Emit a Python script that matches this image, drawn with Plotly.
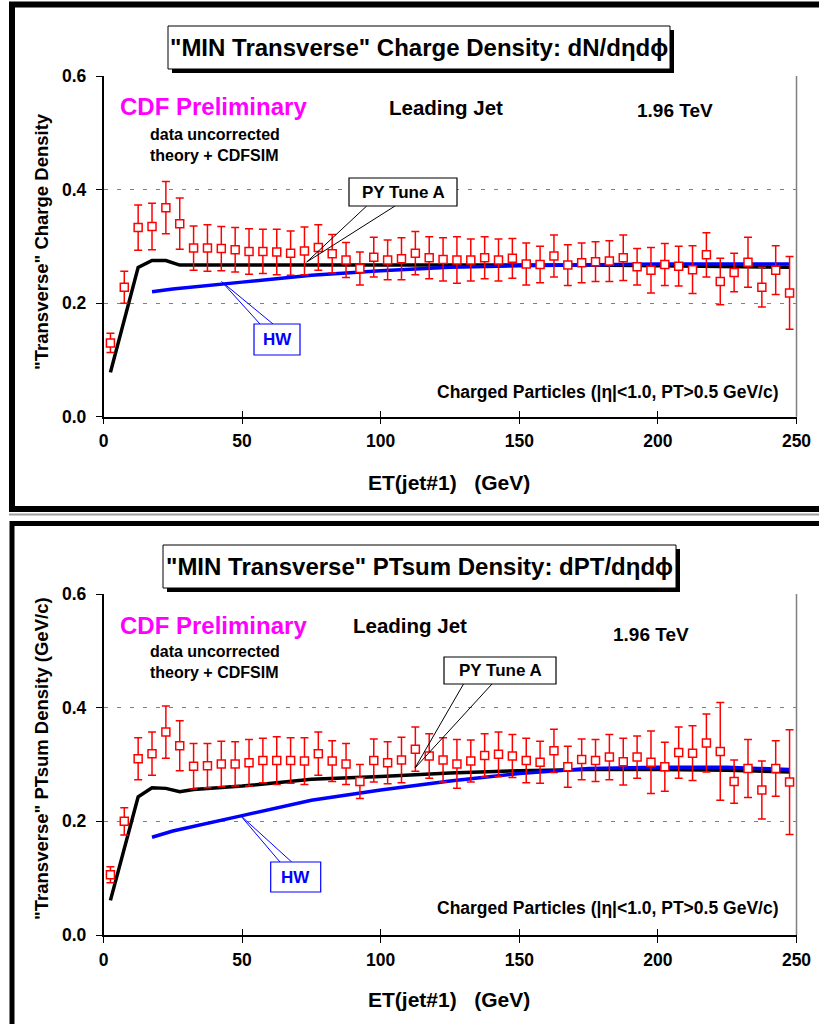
import plotly.graph_objects as go

W, H = 819, 1024

# ---- data -------------------------------------------------------------
et_bins = [2.5, 7.5, 12.5, 17.5, 22.5, 27.5, 32.5, 37.5, 42.5, 47.5,
           52.5, 57.5, 62.5, 67.5, 72.5, 77.5, 82.5, 87.5, 92.5, 97.5,
           102.5, 107.5, 112.5, 117.5, 122.5, 127.5, 132.5, 137.5, 142.5, 147.5,
           152.5, 157.5, 162.5, 167.5, 172.5, 177.5, 182.5, 187.5, 192.5, 197.5,
           202.5, 207.5, 212.5, 217.5, 222.5, 227.5, 232.5, 237.5, 242.5, 247.5]

charge_data = [0.130, 0.228, 0.333, 0.335, 0.368, 0.340, 0.297, 0.297, 0.296, 0.294,
               0.291, 0.291, 0.290, 0.288, 0.292, 0.298, 0.287, 0.276, 0.261, 0.281,
               0.276, 0.278, 0.288, 0.280, 0.277, 0.276, 0.276, 0.280, 0.276, 0.279,
               0.269, 0.268, 0.283, 0.267, 0.271, 0.273, 0.274, 0.280, 0.264, 0.258,
               0.268, 0.265, 0.259, 0.285, 0.238, 0.254, 0.272, 0.228, 0.258, 0.218]
charge_err = [0.017, 0.028, 0.040, 0.041, 0.046, 0.045, 0.039, 0.041, 0.039, 0.039,
              0.040, 0.039, 0.040, 0.039, 0.042, 0.040, 0.034, 0.031, 0.029, 0.035,
              0.035, 0.037, 0.038, 0.037, 0.038, 0.041, 0.037, 0.037, 0.037, 0.035,
              0.037, 0.032, 0.037, 0.036, 0.035, 0.035, 0.036, 0.040, 0.032, 0.040,
              0.037, 0.035, 0.042, 0.039, 0.041, 0.034, 0.044, 0.035, 0.043, 0.064]

ptsum_data = [0.106, 0.200, 0.310, 0.319, 0.357, 0.333, 0.297, 0.298, 0.301, 0.301,
              0.303, 0.307, 0.307, 0.307, 0.306, 0.319, 0.306, 0.301, 0.270, 0.307,
              0.303, 0.308, 0.327, 0.315, 0.308, 0.301, 0.306, 0.316, 0.318, 0.315,
              0.307, 0.304, 0.324, 0.296, 0.309, 0.307, 0.313, 0.305, 0.313, 0.304,
              0.296, 0.321, 0.320, 0.338, 0.323, 0.270, 0.293, 0.255, 0.293, 0.269]
ptsum_err = [0.014, 0.024, 0.037, 0.038, 0.046, 0.044, 0.040, 0.039, 0.040, 0.039,
             0.041, 0.039, 0.042, 0.040, 0.041, 0.038, 0.036, 0.036, 0.030, 0.038,
             0.037, 0.040, 0.039, 0.039, 0.039, 0.043, 0.037, 0.038, 0.039, 0.038,
             0.039, 0.037, 0.038, 0.036, 0.036, 0.037, 0.040, 0.041, 0.037, 0.055,
             0.043, 0.045, 0.048, 0.051, 0.086, 0.038, 0.051, 0.051, 0.049, 0.092]

py_et = [2.5, 7.5, 12.5, 17.5, 22.5, 27.5, 32.5, 50, 75, 100, 125, 150, 175, 200, 225, 247.5]
py_charge = [0.078, 0.170, 0.263, 0.275, 0.275, 0.267, 0.267, 0.267, 0.268, 0.268,
             0.268, 0.268, 0.267, 0.266, 0.265, 0.263]
py_ptsum = [0.061, 0.150, 0.243, 0.259, 0.258, 0.252, 0.256, 0.262, 0.274, 0.279,
            0.285, 0.289, 0.291, 0.291, 0.290, 0.287]

hw_et = [17.5, 25, 50, 75, 100, 125, 150, 175, 200, 225, 247.5]
hw_charge = [0.220, 0.225, 0.237, 0.249, 0.257, 0.263, 0.266, 0.268, 0.269, 0.269, 0.269]
hw_ptsum = [0.172, 0.183, 0.210, 0.237, 0.255, 0.271, 0.284, 0.293, 0.295, 0.295, 0.291]

x_ticks = [0, 50, 100, 150, 200, 250]
y_ticks = [0.0, 0.2, 0.4, 0.6]
y_ticktext = ["0.0", "0.2", "0.4", "0.6"]

FONT = "Liberation Sans, Arial, sans-serif"
RED = "#FF0000"
BLUE = "#0000FF"
MAGENTA = "#FF00FF"
GRID = "#808080"


def px(x):
    return x / W


def py(y):
    return 1 - y / H


# pixel layout of the two panels
panels = [
    dict(name="charge", left=103.5, right=796.5, top=76, bottom=416.7,
         data=charge_data, err=charge_err, py=py_charge, hw=hw_charge,
         title='"MIN Transverse" Charge Density: dN/d\u03b7d\u03d5',
         title_box=(168, 26, 670, 69),
         ytitle='"Transverse" Charge Density',
         cdf_y=106, unc_y=134, th_y=155,
         lead=(446, 107), tev=(675, 110),
         charged_y=392, xtitle_y=482, ytitle_y=242,
         py_box=(349, 178, 457, 206), py_legs=(366.7, 395), py_tip=(306.7, 262),
         hw_box=(254, 324, 300, 355), hw_legs=(260, 273), hw_tip=(221.7, 281.7)),
    dict(name="ptsum", left=103.5, right=796.5, top=594, bottom=935,
         data=ptsum_data, err=ptsum_err, py=py_ptsum, hw=hw_ptsum,
         title='"MIN Transverse" PTsum Density: dPT/d\u03b7d\u03d5',
         title_box=(163, 545, 676, 588),
         ytitle='"Transverse" PTsum Density (GeV/c)',
         cdf_y=625, unc_y=651, th_y=672,
         lead=(410, 625), tev=(651, 634),
         charged_y=908, xtitle_y=999, ytitle_y=759,
         py_box=(444, 657, 556, 684), py_legs=(463.5, 492), py_tip=(415, 768),
         hw_box=(270.7, 862, 320.7, 892), hw_legs=(280, 291.7), hw_tip=(240, 815)),
]

fig = go.Figure()
shapes = []
annotations = []
layout_axes = {}

for i, p in enumerate(panels):
    n = i + 1
    xa = "x" if n == 1 else f"x{n}"
    ya = "y" if n == 1 else f"y{n}"
    xo = f"x{n + 2}"  # overlay axis carrying inside tick marks

    fig.add_trace(go.Scatter(x=py_et, y=p["py"], mode="lines", xaxis=xa, yaxis=ya,
                             line=dict(color="black", width=3.5), showlegend=False))
    fig.add_trace(go.Scatter(x=hw_et, y=p["hw"], mode="lines", xaxis=xa, yaxis=ya,
                             line=dict(color=BLUE, width=3.5), showlegend=False))
    fig.add_trace(go.Scatter(x=et_bins, y=p["data"], mode="markers", xaxis=xa, yaxis=ya,
                             marker=dict(symbol="square", size=8, color="white",
                                         line=dict(color=RED, width=1.5)),
                             error_y=dict(type="data", array=p["err"], visible=True,
                                          color=RED, thickness=1.5, width=4),
                             showlegend=False))
    fig.add_trace(go.Scatter(x=[None], y=[None], xaxis=xo, yaxis=ya, showlegend=False))

    xdom = [px(p["left"]), px(p["right"])]
    ydom = [py(p["bottom"]), py(p["top"])]
    tickfont = dict(family=FONT, size=17.5, color="black", weight="bold")

    layout_axes["xaxis" if n == 1 else f"xaxis{n}"] = dict(
        domain=xdom, anchor=ya, range=[0, 250], tickvals=x_ticks,
        ticks="outside", ticklen=6, tickwidth=1, tickcolor="black",
        showline=True, linecolor="black", linewidth=1.5, automargin=False,
        showgrid=False, zeroline=False, tickfont=tickfont, ticklabelstandoff=2)
    layout_axes[f"xaxis{n + 2}"] = dict(
        domain=xdom, anchor=ya, overlaying=xa, range=[0, 250], tickvals=x_ticks,
        ticks="inside", ticklen=6, tickwidth=1, tickcolor="black", automargin=False,
        showticklabels=False, showline=False, showgrid=False, zeroline=False)
    layout_axes["yaxis" if n == 1 else f"yaxis{n}"] = dict(
        domain=ydom, anchor=xa, range=[0, 0.6], tickvals=y_ticks, ticktext=y_ticktext,
        ticks="outside", ticklen=6, tickwidth=1, tickcolor="black",
        showline=True, linecolor="black", linewidth=1.5, automargin=False,
        showgrid=True, gridcolor=GRID, gridwidth=1, griddash="4px,9px",
        zeroline=False, tickfont=tickfont, ticklabelstandoff=6)

    # right edge of the plot area
    shapes.append(dict(type="line", xref="paper", yref="paper",
                       x0=px(p["right"]), x1=px(p["right"]),
                       y0=py(p["bottom"]), y1=py(p["top"]),
                       line=dict(color=GRID, width=1.5)))

    # title box with drop shadow
    bx0, by0, bx1, by1 = p["title_box"]
    shapes.append(dict(type="rect", xref="paper", yref="paper",
                       x0=px(bx0 + 4), x1=px(bx1 + 4), y0=py(by1 + 4), y1=py(by0 + 4),
                       fillcolor="black", line=dict(width=0)))
    shapes.append(dict(type="rect", xref="paper", yref="paper",
                       x0=px(bx0), x1=px(bx1), y0=py(by1), y1=py(by0),
                       fillcolor="white", line=dict(color="black", width=1)))
    annotations.append(dict(text=p["title"], xref="paper", yref="paper",
                            x=px((bx0 + bx1) / 2), y=py((by0 + by1) / 2),
                            xanchor="center", yanchor="middle", showarrow=False,
                            font=dict(family=FONT, size=24, color="black", weight="bold")))

    # callouts for the two model curves
    for box, legs, tip, col, label in [
        (p["py_box"], p["py_legs"], p["py_tip"], "black", "PY Tune A"),
        (p["hw_box"], p["hw_legs"], p["hw_tip"], BLUE, "HW"),
    ]:
        cx0, cy0, cx1, cy1 = box
        leg_y = cy1 if tip[1] > cy1 else cy0
        for lx in legs:
            shapes.append(dict(type="line", xref="paper", yref="paper",
                               x0=px(lx), y0=py(leg_y), x1=px(tip[0]), y1=py(tip[1]),
                               line=dict(color=col, width=1)))
        shapes.append(dict(type="rect", xref="paper", yref="paper",
                           x0=px(cx0), x1=px(cx1), y0=py(cy1), y1=py(cy0),
                           fillcolor="white", line=dict(color=col, width=1.2)))
        annotations.append(dict(text=label, xref="paper", yref="paper",
                                x=px((cx0 + cx1) / 2), y=py((cy0 + cy1) / 2),
                                xanchor="center", yanchor="middle", showarrow=False,
                                font=dict(family=FONT, size=17, color=col, weight="bold")))

    def note(text, x, y, size, xanchor="left", color="black", angle=0):
        annotations.append(dict(text=text, xref="paper", yref="paper",
                                x=px(x), y=py(y), xanchor=xanchor, yanchor="middle",
                                showarrow=False, textangle=angle,
                                font=dict(family=FONT, size=size, color=color,
                                          weight="bold")))

    note("CDF Preliminary", 118, p["cdf_y"], 24, color=MAGENTA)
    note("data uncorrected", 148, p["unc_y"], 16)
    note("theory + CDFSIM", 148, p["th_y"], 16)
    note("Leading Jet", p["lead"][0], p["lead"][1], 20.5, xanchor="center")
    note("1.96 TeV", p["tev"][0], p["tev"][1], 19, xanchor="center")
    note("Charged Particles (|\u03b7|<1.0, PT>0.5 GeV/c)", 780, p["charged_y"], 17.5,
         xanchor="right")
    note("ET(jet#1)   (GeV)", 449, p["xtitle_y"], 21, xanchor="center")
    note(p["ytitle"], 41, p["ytitle_y"], 18.5, xanchor="center", angle=-90)

# outer frames around each panel
shapes.append(dict(type="rect", xref="paper", yref="paper", layer="below",
                   x0=px(12), x1=px(835), y0=py(509), y1=py(4.5),
                   line=dict(color="black", width=6)))
shapes.append(dict(type="line", xref="paper", yref="paper", layer="below",
                   x0=px(9), x1=px(835), y0=py(514.5), y1=py(514.5),
                   line=dict(color="#A0A0A0", width=2)))
shapes.append(dict(type="rect", xref="paper", yref="paper", layer="below",
                   x0=px(12), x1=px(835), y0=py(1040), y1=py(523.5),
                   line=dict(color="black", width=5)))

fig.update_layout(
    width=W, height=H,
    margin=dict(l=0, r=0, t=0, b=0, autoexpand=False),
    paper_bgcolor="white", plot_bgcolor="white",
    showlegend=False,
    shapes=shapes, annotations=annotations,
    **layout_axes,
)

fig.write_html("out.html")
